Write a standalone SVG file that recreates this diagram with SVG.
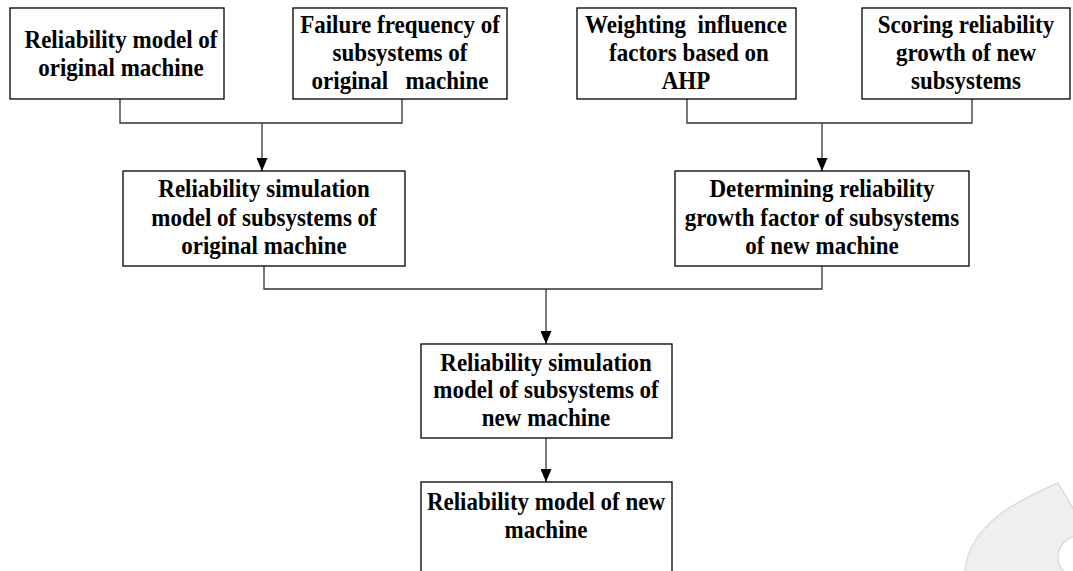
<svg xmlns="http://www.w3.org/2000/svg" width="1073" height="571" viewBox="0 0 1073 571">
  <style>
    .box { fill: #ffffff; stroke: #000000; stroke-width: 1.3; }
    .lbl { font-family: "Liberation Serif", "Times New Roman", serif; font-weight: bold; font-size: 25px; fill: #000000; text-anchor: middle; }
    .wire { fill: none; stroke: #333333; stroke-width: 1.3; }
    .mark { fill: #efefef; stroke: #dcdcdc; stroke-width: 1.5; }
  </style>
  <defs>
    <!-- arrowhead drawn along +x so orient="auto" turns it with the line -->
    <marker id="arrow" markerWidth="13" markerHeight="11" refX="13" refY="5.5" orient="auto" markerUnits="userSpaceOnUse" viewBox="0 0 13 11">
      <path d="M0,0 L13,5.5 L0,11 Z" fill="#000000"/>
    </marker>
  </defs>
  <rect width="1073" height="571" fill="#ffffff"/>

  <!-- faint emblem in the lower right corner -->
  <g id="emblem">
    <path class="mark" d="M1058,483 C1018,500 968,525 965,572 L1074,572 L1074,510 Z"/>
    <circle cx="1079" cy="557" r="21" fill="#ffffff" stroke="#dcdcdc" stroke-width="1.5"/>
  </g>

  <!-- connectors -->
  <g id="connectors">
    <path class="wire" d="M120,99 V123 H402 V99"/>
    <path class="wire" d="M262,123 V171" marker-end="url(#arrow)"/>
    <path class="wire" d="M687,99 V123 H972 V99"/>
    <path class="wire" d="M822,123 V171" marker-end="url(#arrow)"/>
    <path class="wire" d="M264,266 V289 H822 V266"/>
    <path class="wire" d="M546,289 V344" marker-end="url(#arrow)"/>
    <path class="wire" d="M546,438 V482" marker-end="url(#arrow)"/>
  </g>

  <!-- labels are set in a slightly condensed bold serif -->
  <g id="n1">
    <rect class="box" x="10" y="8" width="214" height="91"/>
    <text class="lbl" transform="translate(121,48) scale(0.92,1)"><tspan x="0" y="0">Reliability model of</tspan><tspan x="0" y="28">original machine</tspan></text>
  </g>

  <g id="n2">
    <rect class="box" x="293" y="8" width="214" height="91"/>
    <text class="lbl" transform="translate(400,33) scale(0.92,1)" xml:space="preserve"><tspan x="0" y="0">Failure frequency of</tspan><tspan x="0" y="28">subsystems of</tspan><tspan x="0" y="56">original   machine</tspan></text>
  </g>

  <g id="n3">
    <rect class="box" x="577" y="8" width="219" height="91"/>
    <text class="lbl" transform="translate(686,33) scale(0.92,1)" xml:space="preserve"><tspan x="0" y="0">Weighting  influence</tspan><tspan x="0" y="28"> factors based on</tspan><tspan x="0" y="56">AHP</tspan></text>
  </g>

  <g id="n4">
    <rect class="box" x="862" y="8" width="208" height="91"/>
    <text class="lbl" transform="translate(966,33) scale(0.92,1)"><tspan x="0" y="0">Scoring reliability</tspan><tspan x="0" y="28">growth of new</tspan><tspan x="0" y="56">subsystems</tspan></text>
  </g>

  <g id="n5">
    <rect class="box" x="123" y="171" width="282" height="95"/>
    <text class="lbl" transform="translate(264,197) scale(0.92,1)"><tspan x="0" y="0">Reliability simulation</tspan><tspan x="0" y="29">model of subsystems of</tspan><tspan x="0" y="57">original machine</tspan></text>
  </g>

  <g id="n6">
    <rect class="box" x="675" y="171" width="294" height="95"/>
    <text class="lbl" transform="translate(822,197) scale(0.92,1)"><tspan x="0" y="0">Determining reliability</tspan><tspan x="0" y="29">growth factor of subsystems</tspan><tspan x="0" y="57">of new machine</tspan></text>
  </g>

  <g id="n7">
    <rect class="box" x="421" y="344" width="251" height="94"/>
    <text class="lbl" transform="translate(546,371) scale(0.92,1)"><tspan x="0" y="0">Reliability simulation</tspan><tspan x="0" y="27">model of subsystems of</tspan><tspan x="0" y="55">new machine</tspan></text>
  </g>

  <g id="n8">
    <rect class="box" x="421" y="482" width="251" height="110"/>
    <text class="lbl" transform="translate(546,510) scale(0.92,1)"><tspan x="0" y="0">Reliability model of new</tspan><tspan x="0" y="28">machine</tspan></text>
  </g>
</svg>
